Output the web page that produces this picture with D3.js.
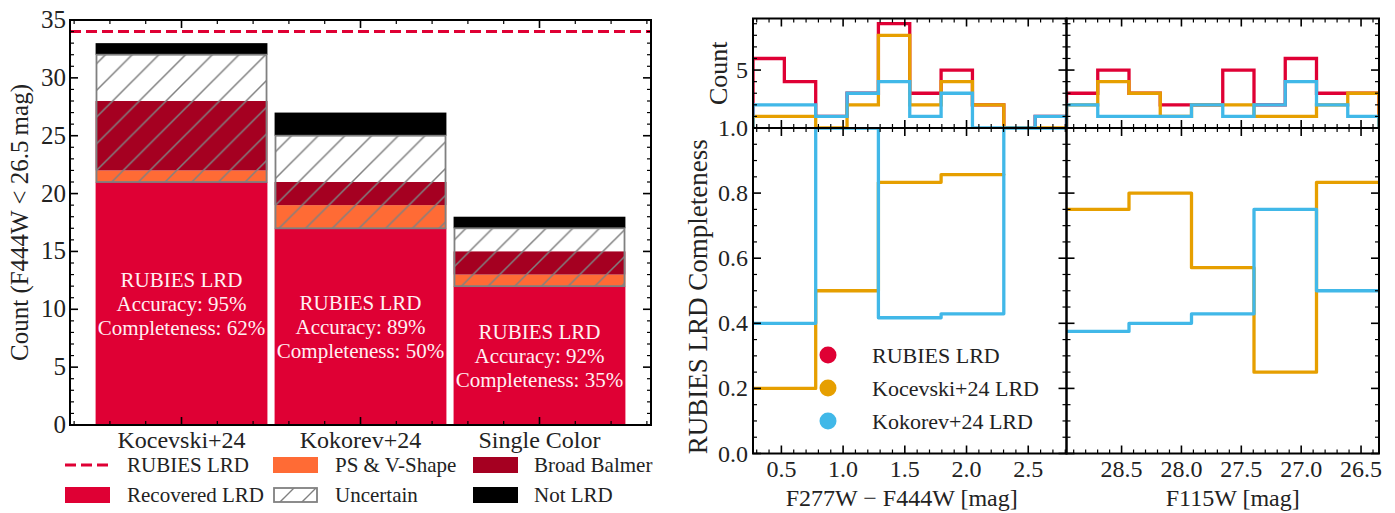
<!DOCTYPE html>
<html><head><meta charset="utf-8">
<script src="https://cdn.jsdelivr.net/npm/d3@7"></script>
<style>
html,body{margin:0;padding:0;background:#fff;}
svg{display:block;}
text{font-family:"Liberation Serif","Times New Roman",serif;fill:#222;}
</style></head>
<body>
<svg id="chart" width="1395" height="513"></svg>
<script>
// ---------------- DATA ----------------
const categories = ["Kocevski+24", "Kokorev+24", "Single Color"];
const recovered = [21, 17, 12];
const psVShape = [1, 2, 1];
const broadBalmer = [6, 2, 2];
const uncertain = [4, 4, 2];
const notLRD = [1, 2, 1];
const rubiesTotal = 34;
const accuracy = [95, 89, 92];
const completenessPct = [62, 50, 35];

const colorEdges = [0.27, 0.524, 0.778, 1.032, 1.286, 1.54, 1.794, 2.048, 2.302, 2.556, 2.81];
const colorRubies = [6, 4, 1, 3, 9, 3, 5, 2, 0, 1];
const colorKocevski = [1, 1, 0, 2, 8, 2, 4, 2, 0, 0];
const colorKokorev = [2, 2, 1, 3, 4, 1, 3, 0, 0, 1];
const colorCompEdges = [0.27, 0.778, 1.286, 1.794, 2.302, 2.81];
const colorCompKocevski = [0.2, 0.5, 0.833, 0.857, null];
const colorCompKokorev = [0.4, 1.0, 0.417, 0.429, 1.0];

const magEdges = [28.96, 28.699, 28.438, 28.177, 27.916, 27.655, 27.394, 27.133, 26.872, 26.611, 26.35];
const magRubies = [3, 5, 3, 2, 2, 5, 2, 6, 3, 3];
const magKocevski = [2, 4, 3, 1, 2, 2, 1, 1, 2, 3];
const magKokorev = [2, 1, 1, 1, 2, 1, 2, 4, 2, 1];
const magCompEdges = [28.96, 28.438, 27.916, 27.394, 26.872, 26.35];
const magCompKocevski = [0.75, 0.8, 0.571, 0.25, 0.833];
const magCompKokorev = [0.375, 0.4, 0.429, 0.75, 0.5];

const leftYTicks = [0, 5, 10, 15, 20, 25, 30, 35];
const colorTicks = [0.5, 1.0, 1.5, 2.0, 2.5];
const magTicks = [28.5, 28.0, 27.5, 27.0, 26.5];
const compTicks = [0.0, 0.2, 0.4, 0.6, 0.8, 1.0];
const countTicks = [5];
const legendLeft = ["RUBIES LRD", "PS & V-Shape", "Broad Balmer", "Recovered LRD", "Uncertain", "Not LRD"];
const legendRight = ["RUBIES LRD", "Kocevski+24 LRD", "Kokorev+24 LRD"];

// ---------------- STYLE ----------------
const C_RED = "#DF0034", C_PS = "#FF6B35", C_BB = "#A50021", C_NOT = "#000000";
const C_OR = "#E69F00", C_BL = "#41B8E8", C_HATCH = "#808080";

const svg = d3.select("#chart");
const defs = svg.append("defs");
const hs = 26.7;
const pat = defs.append("pattern").attr("id", "hatch").attr("patternUnits", "userSpaceOnUse")
  .attr("width", hs).attr("height", hs);
pat.append("path").attr("d", `M0,${hs} L${hs},0 M${-hs/4},${hs/4} L${hs/4},${-hs/4} M${hs*0.75},${hs*1.25} L${hs*1.25},${hs*0.75}`)
  .attr("stroke", C_HATCH).attr("stroke-width", 1.5);
const patL = defs.append("pattern").attr("id", "hatchL").attr("patternUnits", "userSpaceOnUse")
  .attr("width", 22).attr("height", 22).attr("x", 273).attr("y", 487);
patL.append("path").attr("d", "M0,22 L22,0 M-5,5 L5,-5 M17,27 L27,17")
  .attr("stroke", C_HATCH).attr("stroke-width", 1.4);

function ticksX(g, scale, vals, y, dir, len, w) {
  g.selectAll(null).data(vals).enter().append("line")
    .attr("x1", d => scale(d)).attr("x2", d => scale(d))
    .attr("y1", y).attr("y2", y + dir * len)
    .attr("stroke", "#000").attr("stroke-width", w);
}
function ticksY(g, scale, vals, x, dir, len, w) {
  g.selectAll(null).data(vals).enter().append("line")
    .attr("y1", d => scale(d)).attr("y2", d => scale(d))
    .attr("x1", x).attr("x2", x + dir * len)
    .attr("stroke", "#000").attr("stroke-width", w);
}
function range(a, b, s) { const r = []; for (let v = a; v <= b + 1e-9; v += s) r.push(+v.toFixed(4)); return r; }
function frame(g, x0, x1, y0, y1) {
  g.append("rect").attr("x", x0).attr("y", y0).attr("width", x1 - x0).attr("height", y1 - y0)
    .attr("fill", "none").attr("stroke", "#000").attr("stroke-width", 2);
}

// ---------------- LEFT PANEL ----------------
const L = {x0: 70, x1: 651, y0: 20, y1: 425};
const xL = d3.scaleLinear().domain([-0.623, 2.623]).range([L.x0, L.x1]);
const yL = d3.scaleLinear().domain([0, 35]).range([L.y1, L.y0]);
const gL = svg.append("g");
const bw = 0.96;

categories.forEach((c, i) => {
  const xa = xL(i - bw / 2), xw = xL(i + bw / 2) - xL(i - bw / 2);
  const r = recovered[i], p = r + psVShape[i], b = p + broadBalmer[i], u = b + uncertain[i], n = u + notLRD[i];
  const seg = (lo, hi, fill) => gL.append("rect").attr("x", xa).attr("width", xw)
    .attr("y", yL(hi)).attr("height", yL(lo) - yL(hi)).attr("fill", fill);
  seg(0, r, C_RED);
  seg(r, p, C_PS);
  seg(p, b, C_BB);
  seg(u, n, C_NOT);
  gL.append("rect").attr("x", xa + 0.9).attr("width", xw - 1.8)
    .attr("y", yL(u)).attr("height", yL(r) - yL(u))
    .attr("fill", "url(#hatch)").attr("stroke", C_HATCH).attr("stroke-width", 1.8);
  const yc = yL(r / 2);
  const lines = ["RUBIES LRD", `Accuracy: ${accuracy[i]}%`, `Completeness: ${completenessPct[i]}%`];
  lines.forEach((t, k) => {
    gL.append("text").attr("x", xL(i)).attr("y", yc + (k - 1) * 24 + 7)
      .attr("text-anchor", "middle").attr("font-size", 21).style("fill", "#fff0f3").text(t);
  });
});

gL.append("line").attr("x1", L.x0).attr("x2", L.x1).attr("y1", yL(rubiesTotal)).attr("y2", yL(rubiesTotal))
  .attr("stroke", C_RED).attr("stroke-width", 3).attr("stroke-dasharray", "11,5");

frame(gL, L.x0, L.x1, L.y0, L.y1);
const lMinorX = range(-0.6, 2.6, 0.2).filter(v => Math.abs(v - Math.round(v)) > 1e-6);
ticksX(gL, xL, [0, 1, 2], L.y1, -1, 8, 1.6);
ticksX(gL, xL, [0, 1, 2], L.y0, 1, 8, 1.6);
ticksX(gL, xL, lMinorX, L.y1, -1, 4, 1.2);
ticksX(gL, xL, lMinorX, L.y0, 1, 4, 1.2);
const lMinorY = range(0, 35, 1).filter(v => v % 5 !== 0);
ticksY(gL, yL, leftYTicks, L.x0, 1, 8, 1.6);
ticksY(gL, yL, leftYTicks, L.x1, -1, 8, 1.6);
ticksY(gL, yL, lMinorY, L.x0, 1, 4, 1.2);
ticksY(gL, yL, lMinorY, L.x1, -1, 4, 1.2);

gL.selectAll(null).data(leftYTicks).enter().append("text")
  .attr("x", 66).attr("y", d => yL(d) + 8).attr("text-anchor", "end").attr("font-size", 25).text(d => d);
gL.selectAll(null).data(categories).enter().append("text")
  .attr("x", (d, i) => xL(i)).attr("y", 448).attr("text-anchor", "middle").attr("font-size", 24).text(d => d);
gL.append("text").attr("transform", `translate(28,${(L.y0 + L.y1) / 2}) rotate(-90)`)
  .attr("text-anchor", "middle").attr("font-size", 25).text("Count (F444W < 26.5\u2009mag)");

// legend (left)
const lg = svg.append("g");
lg.append("line").attr("x1", 65).attr("x2", 110).attr("y1", 465).attr("y2", 465)
  .attr("stroke", C_RED).attr("stroke-width", 3).attr("stroke-dasharray", "11,5");
lg.append("rect").attr("x", 273).attr("y", 457).attr("width", 45).attr("height", 16).attr("fill", C_PS);
lg.append("rect").attr("x", 473).attr("y", 457).attr("width", 45).attr("height", 16).attr("fill", C_BB);
lg.append("rect").attr("x", 65).attr("y", 487).attr("width", 45).attr("height", 16).attr("fill", C_RED);
lg.append("rect").attr("x", 274).attr("y", 488).attr("width", 43).attr("height", 14)
  .attr("fill", "url(#hatchL)").attr("stroke", C_HATCH).attr("stroke-width", 1.8);
lg.append("rect").attr("x", 473).attr("y", 487).attr("width", 45).attr("height", 16).attr("fill", C_NOT);
const legPos = [[127, 465], [335, 465], [534, 465], [127, 495], [335, 495], [534, 495]];
legendLeft.forEach((t, k) => lg.append("text").attr("x", legPos[k][0]).attr("y", legPos[k][1] + 7)
  .attr("font-size", 21).text(t));

// ---------------- RIGHT PANELS ----------------
const R = {xa0: 753, xa1: 1066.5, xb1: 1379, yt: 18.5, ym: 128, yb: 453.5};
const xA = d3.scaleLinear().domain([0.27, 2.81]).range([R.xa0, R.xa1]);
const xB = d3.scaleLinear().domain([28.96, 26.35]).range([R.xa1, R.xb1]);
const yH = d3.scaleLinear().domain([0, 9.45]).range([R.ym, R.yt]);
const yC = d3.scaleLinear().domain([0, 1]).range([R.yb, R.ym]);

function clip(id, x0, x1, y0, y1) {
  defs.append("clipPath").attr("id", id).append("rect").attr("x", x0).attr("y", y0)
    .attr("width", x1 - x0).attr("height", y1 - y0);
}
clip("cA", R.xa0, R.xa1, R.yt, R.ym);
clip("cB", R.xa1, R.xb1, R.yt, R.ym);
clip("cC", R.xa0, R.xa1, R.ym, R.yb);
clip("cD", R.xa1, R.xb1, R.ym, R.yb);

function histPath(xs, ys, edges, counts) {
  let d = `M${xs(edges[0])},${ys(0)}`;
  counts.forEach((c, i) => { d += `L${xs(edges[i])},${ys(c)}L${xs(edges[i + 1])},${ys(c)}`; });
  d += `L${xs(edges[edges.length - 1])},${ys(0)}`;
  return d;
}
function stairPath(xs, ys, edges, vals) {
  let d = "", open = false;
  vals.forEach((v, i) => {
    if (v === null) { open = false; return; }
    if (!open) { d += `M${xs(edges[i])},${ys(v)}`; open = true; }
    else d += `L${xs(edges[i])},${ys(v)}`;
    d += `L${xs(edges[i + 1])},${ys(v)}`;
  });
  return d;
}
function drawHist(clipId, xs, edges, sets) {
  const g = svg.append("g").attr("clip-path", `url(#${clipId})`);
  sets.forEach(([counts, col]) => g.append("path").attr("d", histPath(xs, yH, edges, counts))
    .attr("fill", "none").attr("stroke", col).attr("stroke-width", 3.3).attr("stroke-linejoin", "miter"));
}
function drawComp(clipId, xs, edges, sets) {
  const g = svg.append("g").attr("clip-path", `url(#${clipId})`);
  sets.forEach(([vals, col]) => g.append("path").attr("d", stairPath(xs, yC, edges, vals))
    .attr("fill", "none").attr("stroke", col).attr("stroke-width", 3.3)
    .attr("stroke-linejoin", "round").attr("stroke-linecap", "round"));
}
drawHist("cA", xA, colorEdges, [[colorRubies, C_RED], [colorKocevski, C_OR], [colorKokorev, C_BL]]);
drawHist("cB", xB, magEdges, [[magRubies, C_RED], [magKocevski, C_OR], [magKokorev, C_BL]]);
drawComp("cC", xA, colorCompEdges, [[colorCompKocevski, C_OR], [colorCompKokorev, C_BL]]);
drawComp("cD", xB, magCompEdges, [[magCompKocevski, C_OR], [magCompKokorev, C_BL]]);

const gR = svg.append("g");
frame(gR, R.xa0, R.xa1, R.yt, R.ym);
frame(gR, R.xa1, R.xb1, R.yt, R.ym);
frame(gR, R.xa0, R.xa1, R.ym, R.yb);
frame(gR, R.xa1, R.xb1, R.ym, R.yb);

const aMinor = range(0.3, 2.8, 0.1).filter(v => Math.abs(v * 2 - Math.round(v * 2)) > 1e-6);
const bMinor = range(26.4, 28.9, 0.1).filter(v => Math.abs(v * 2 - Math.round(v * 2)) > 1e-6);
[[R.yt, R.ym], [R.ym, R.yb]].forEach(([top, bot]) => {
  ticksX(gR, xA, colorTicks, bot, -1, 8, 1.6); ticksX(gR, xA, colorTicks, top, 1, 8, 1.6);
  ticksX(gR, xA, aMinor, bot, -1, 4, 1.2); ticksX(gR, xA, aMinor, top, 1, 4, 1.2);
  ticksX(gR, xB, magTicks, bot, -1, 8, 1.6); ticksX(gR, xB, magTicks, top, 1, 8, 1.6);
  ticksX(gR, xB, bMinor, bot, -1, 4, 1.2); ticksX(gR, xB, bMinor, top, 1, 4, 1.2);
});
const hMajor = [0, 5], hMinor = [1, 2, 3, 4, 6, 7, 8, 9];
const cMinor = range(0.05, 0.95, 0.05).filter(v => Math.abs(v * 5 - Math.round(v * 5)) > 1e-6);
[[R.xa0, R.xa1], [R.xa1, R.xb1]].forEach(([l, r]) => {
  ticksY(gR, yH, hMajor, l, 1, 8, 1.6); ticksY(gR, yH, hMajor, r, -1, 8, 1.6);
  ticksY(gR, yH, hMinor, l, 1, 4, 1.2); ticksY(gR, yH, hMinor, r, -1, 4, 1.2);
  ticksY(gR, yC, compTicks, l, 1, 8, 1.6); ticksY(gR, yC, compTicks, r, -1, 8, 1.6);
  ticksY(gR, yC, cMinor, l, 1, 4, 1.2); ticksY(gR, yC, cMinor, r, -1, 4, 1.2);
});

gR.selectAll(null).data(countTicks).enter().append("text").attr("x", 748).attr("y", d => yH(d) + 8)
  .attr("text-anchor", "end").attr("font-size", 24).text(d => d);
gR.selectAll(null).data(compTicks).enter().append("text").attr("x", 748).attr("y", d => yC(d) + 8)
  .attr("text-anchor", "end").attr("font-size", 24).text(d => d.toFixed(1));
gR.selectAll(null).data(colorTicks).enter().append("text").attr("x", d => xA(d)).attr("y", 477)
  .attr("text-anchor", "middle").attr("font-size", 24).text(d => d.toFixed(1));
gR.selectAll(null).data(magTicks).enter().append("text").attr("x", d => xB(d)).attr("y", 477)
  .attr("text-anchor", "middle").attr("font-size", 24).text(d => d.toFixed(1));

gR.append("text").attr("x", (R.xa0 + R.xa1) / 2 - 8).attr("y", 506).attr("text-anchor", "middle")
  .attr("font-size", 24).text("F277W \u2212 F444W [mag]");
gR.append("text").attr("x", (R.xa1 + R.xb1) / 2 + 10).attr("y", 506).attr("text-anchor", "middle")
  .attr("font-size", 24).text("F115W [mag]");
gR.append("text").attr("transform", `translate(727,${(R.yt + R.ym) / 2}) rotate(-90)`)
  .attr("text-anchor", "middle").attr("font-size", 26).text("Count");
gR.append("text").attr("transform", `translate(707,${(R.ym + R.yb) / 2 + 6}) rotate(-90)`)
  .attr("text-anchor", "middle").attr("font-size", 27).text("RUBIES LRD Completeness");

// legend (right)
const legCols = [C_RED, C_OR, C_BL];
legendRight.forEach((t, k) => {
  const y = 355 + k * 33;
  gR.append("circle").attr("cx", 828).attr("cy", y).attr("r", 8.5).attr("fill", legCols[k]);
  gR.append("text").attr("x", 872).attr("y", y + 8).attr("font-size", 22).text(t);
});
</script>
</body></html>
